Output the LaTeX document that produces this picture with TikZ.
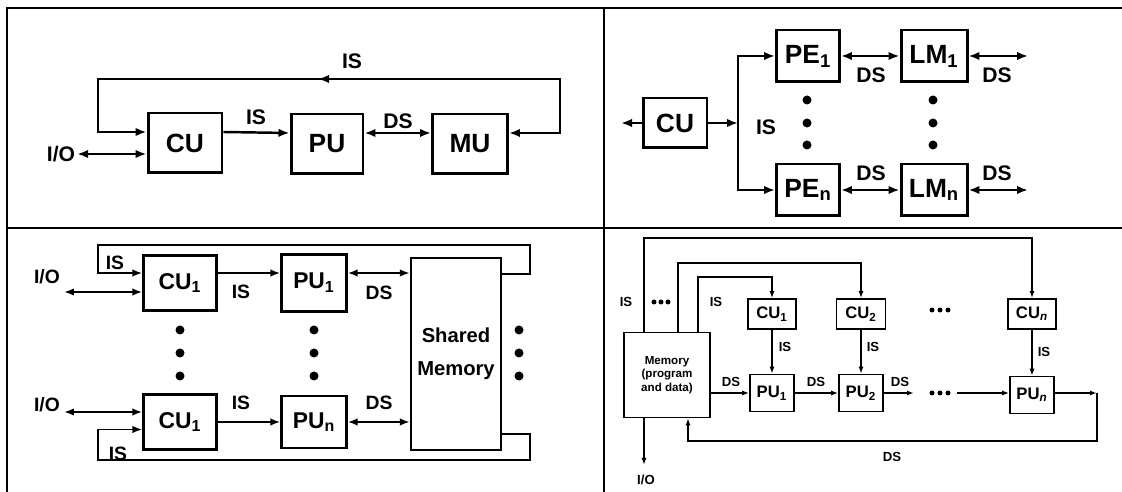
\documentclass[tikz,border=0pt]{standalone}
\usepackage{fontspec}
\setmainfont{Liberation Sans}
\usetikzlibrary{positioning,arrows.meta,calc}

\tikzset{
  frame/.style={line width=1.1pt},
  blkA/.style 2 args={draw, line width=1.7pt, inner sep=0pt, minimum width=#1, minimum height=#2,
    font=\fontsize{15}{15}\selectfont\bfseries},
  blkB/.style 2 args={draw, line width=1.3pt, inner sep=0pt, minimum width=#1, minimum height=#2,
    font=\fontsize{13}{13}\selectfont\bfseries},
  blkC/.style 2 args={draw, line width=0.9pt, inner sep=0pt, minimum width=#1, minimum height=#2,
    font=\fontsize{9.5}{9.5}\selectfont\bfseries},
  lblA/.style={font=\fontsize{12}{12}\selectfont\bfseries, inner sep=1pt},
  lblB/.style={font=\fontsize{11}{11}\selectfont\bfseries, inner sep=1pt},
  lblC/.style={font=\fontsize{7.5}{7.5}\selectfont\bfseries, inner sep=1pt},
  sigA/.style={line width=1.4pt, -{Latex[length=0.22cm,width=0.17cm]}},
  bisigA/.style={line width=1.4pt, {Latex[length=0.22cm,width=0.17cm]}-{Latex[length=0.22cm,width=0.17cm]}},
  sigB/.style={line width=1.1pt, -{Latex[length=0.2cm,width=0.15cm]}},
  bisigB/.style={line width=1.1pt, {Latex[length=0.2cm,width=0.15cm]}-{Latex[length=0.2cm,width=0.15cm]}},
  sigC/.style={line width=0.8pt, -{Latex[length=0.14cm,width=0.1cm]}},
  dotA/.style={circle, fill, inner sep=0pt, minimum size=0.18cm},
  dotC/.style={circle, fill, inner sep=0pt, minimum size=0.1cm}
}

\begin{document}
\begin{tikzpicture}[x=0.02cm, y=-0.02cm]
  \useasboundingbox (0,0) rectangle (1122,492);

  % frame
  \draw[frame] (7,492) -- (7,8) -- (1122,8);
  \draw[frame] (7,228) -- (1122,228);
  \draw[frame] (604,8) -- (604,492);

  % SISD
  \node[blkA={1.48cm}{1.2cm}] (cu) at (185,143) {CU};
  \node[blkA={1.44cm}{1.2cm}] (pu) at (327,144) {PU};
  \node[blkA={1.5cm}{1.2cm}] (mu) at (470,144) {MU};
  \node[lblA] (io) at (61,154) {I/O};
  \coordinate (tl) at (98,79);
  \coordinate (tr) at (560,79);
  \draw[bisigA] (io.east) -- (io.east -| cu.west);
  \draw[sigA] ([yshift=.22cm]cu.east) -- ([yshift=.22cm]pu.west);
  \draw[bisigA] ([yshift=.22cm]pu.east) -- ([yshift=.22cm]mu.west);
  \draw[bisigA] ([yshift=.22cm]cu.west) -| (tl) -- (tr) |- ([yshift=.22cm]mu.east);
  \draw[sigA] (340,79) -- (318,79);
  \node[lblA] at (352,61) {IS};
  \node[lblA] at (256,117) {IS};
  \node[lblA] at (398,121) {DS};

  % SIMD
  \node[blkA={1.28cm}{1.0cm}] (cu2) at (675,123) {CU};
  \node[blkA={1.26cm}{1.04cm}] (pe1) at (808,56) {PE\textsubscript{1}};
  \node[blkA={1.26cm}{1.04cm}] (pen) at (808,190) {PE\textsubscript{n}};
  \node[blkA={1.32cm}{1.04cm}] (lm1) at (934,56) {LM\textsubscript{1}};
  \node[blkA={1.32cm}{1.04cm}] (lmn) at (934,190) {LM\textsubscript{n}};
  \coordinate (hostin) at (621,123);
  \coordinate (fork) at (738,123);
  \coordinate (ds1) at (1028,56);
  \coordinate (dsn) at (1028,190);
  \draw[sigA] (cu2.west) -- (hostin);
  \draw[sigA] (cu2.east) -- (fork);
  \draw[sigA] (fork) |- (pe1.west);
  \draw[sigA] (fork) |- (pen.west);
  \draw[bisigA] (pe1) -- (lm1);
  \draw[bisigA] (pen) -- (lmn);
  \draw[bisigA] (lm1) -- (ds1);
  \draw[bisigA] (lmn) -- (dsn);
  \node[lblA] at (766,127) {IS};
  \node[lblA] at (871,75) {DS};
  \node[lblA] at (871,173) {DS};
  \node[lblA] at (997,75) {DS};
  \node[lblA] at (997,173) {DS};
  \foreach \y in {100,123,145} {
    \node[dotA] at (807,\y) {};
    \node[dotA] at (933,\y) {};
  }

  % MIMD
  \node[blkB={1.46cm}{1.1cm}] (cua) at (180,283) {CU\textsubscript{1}};
  \node[blkB={1.3cm}{1.14cm}] (pua) at (314,283) {PU\textsubscript{1}};
  \node[blkB={1.46cm}{1.1cm}] (cub) at (180,422) {CU\textsubscript{1}};
  \node[blkB={1.3cm}{1.04cm}] (pub) at (314,422) {PU\textsubscript{n}};
  \node[blkB={1.8cm}{3.84cm}, align=center, font=\fontsize{11.5}{19}\selectfont\bfseries] (shm) at (456,354) {Shared\\Memory};
  \coordinate (ta) at (98,245);
  \coordinate (tb) at (530,245);
  \coordinate (ba) at (98,460);
  \coordinate (bb) at (530,460);
  \coordinate (ioat) at (64,292);
  \coordinate (iobt) at (64,412);
  \draw[sigB] ([yshift=-.34cm]shm.north east) -| (tb) -- (ta) |- ([yshift=.2cm]cua.west);
  \draw[sigB] ([yshift=.34cm]shm.south east) -| (bb) -- (ba) |- ([yshift=-.15cm]cub.west);
  \draw[bisigB] (ioat) -- (ioat -| cua.west);
  \draw[bisigB] (iobt) -- (iobt -| cub.west);
  \draw[sigB] ([yshift=.2cm]cua.east) -- ([yshift=.2cm]pua.west);
  \draw[bisigB] ([yshift=.2cm]pua.east) -- ([yshift=.2cm]pua.east -| shm.west);
  \draw[sigB] (cub) -- (pub);
  \draw[bisigB] (pub.east) -- (pub.east -| shm.west);
  \node[lblB] at (47,277) {I/O};
  \node[lblB] at (47,405) {I/O};
  \node[lblB] at (115,263) {IS};
  \node[lblB] at (118,454) {IS};
  \node[lblB] at (241,292) {IS};
  \node[lblB] at (379,293) {DS};
  \node[lblB] at (241,403) {IS};
  \node[lblB] at (379,403) {DS};
  \foreach \y in {330,353,376} {
    \node[dotA] at (180,\y) {};
    \node[dotA] at (314,\y) {};
    \node[dotA] at (519,\y) {};
  }

  % MISD
  \node[blkC={1.72cm}{1.7cm}, align=center, font=\fontsize{6.6}{7.6}\selectfont\bfseries] (mem) at (667,375) {Memory\\(program\\and data)};
  \node[blkC={0.96cm}{0.6cm}] (cuq1) at (772,314) {CU\textsubscript{1}};
  \node[blkC={0.98cm}{0.6cm}] (cuq2) at (861,314) {CU\textsubscript{2}};
  \node[blkC={0.96cm}{0.6cm}] (cuqn) at (1032,314) {CU\textsubscript{\itshape n}};
  \node[blkC={0.88cm}{0.74cm}] (puq1) at (772,393) {PU\textsubscript{1}};
  \node[blkC={0.88cm}{0.74cm}] (puq2) at (861,393) {PU\textsubscript{2}};
  \node[blkC={0.88cm}{0.74cm}] (puqn) at (1032,395) {PU\textsubscript{\itshape n}};
  \coordinate (ma) at (644,238);
  \coordinate (mb) at (678,263);
  \coordinate (mc) at (698,277);
  \draw[sigC] (mem.north -| ma) -- (ma) -| (cuqn.north);
  \draw[sigC] (mem.north -| mb) -- (mb) -| (cuq2.north);
  \draw[sigC] (mem.north -| mc) -- (mc) -| (cuq1.north);
  \draw[sigC] (cuq1) -- (puq1);
  \draw[sigC] (cuq2) -- (puq2);
  \draw[sigC] (cuqn) -- (puqn);
  \coordinate (dsa) at (914,393);
  \coordinate (dsb) at (957,393);
  \coordinate (rc) at (1097,393);
  \coordinate (rb) at (1097,441);
  \coordinate (mfb) at (688,441);
  \coordinate (ioq) at (644,465);
  \draw[sigC] (mem.east |- puq1) -- (puq1.west);
  \draw[sigC] (puq1) -- (puq2);
  \draw[sigC] (puq2) -- (dsa);
  \draw[sigC] (dsb) -- (dsb -| puqn.west);
  \draw[sigC] (puqn.east |- rc) -- (rc);
  \draw[sigC] (rc) -- (rb) -- (mfb) -- (mfb |- mem.south);
  \draw[sigC] (mem.south -| ioq) -- (ioq);
  \node[lblC] at (626,302) {IS};
  \node[lblC] at (716,302) {IS};
  \node[lblC] at (785,347) {IS};
  \node[lblC] at (873,347) {IS};
  \node[lblC] at (1044,352) {IS};
  \node[lblC] at (731,382) {DS};
  \node[lblC] at (816,382) {DS};
  \node[lblC] at (900,382) {DS};
  \node[lblC] at (892,457) {DS};
  \node[lblC] at (646,480) {I/O};
  \foreach \x in {654,661,668} \node[dotC] at (\x,302) {};
  \foreach \x in {932,940,948} {
    \node[dotC] at (\x,310) {};
    \node[dotC] at (\x,393) {};
  }
\end{tikzpicture}
\end{document}
